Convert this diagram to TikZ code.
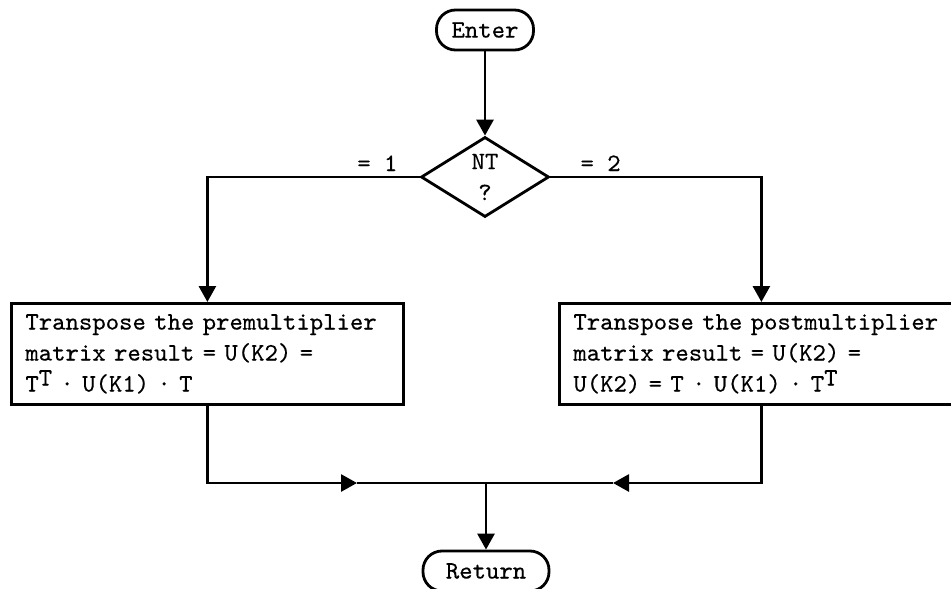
\documentclass[tikz,border=0pt]{standalone}
\usepackage{fontspec}
\newfontfamily\typewriter{lmmono10-regular}[Extension=.otf,FakeStretch=1.02,FakeBold=0.4]
\usetikzlibrary{arrows.meta,shapes.geometric}
% raised transpose mark
\newcommand\supT{\raisebox{6pt}{T}}
\begin{document}
\begin{tikzpicture}[x=1pt,y=-1pt,
  flow/.style={line width=2.8pt},
  arr/.style={flow,-{Triangle[length=16pt,width=17pt]}},
  txt/.style={font=\typewriter\fontsize{25}{31}\selectfont},
  terminal/.style={txt,draw,line width=2.8pt,rounded corners=19pt,minimum height=40pt,inner sep=0pt},
  decision/.style={txt,draw,diamond,line width=2.8pt,minimum width=128pt,minimum height=80pt,inner sep=0pt,align=center},
  process/.style={txt,draw,line width=2.8pt,align=left,inner xsep=14pt,inner ysep=0pt,minimum height=101pt,anchor=north west},
]
\useasboundingbox (0,0) rectangle (951,589);

% terminals and decision
\node[terminal,minimum width=97pt] (enter) at (485,30) {Enter};
\node[decision] (nt) at (485,177) {NT\\?};
\node[txt,anchor=base east] (one) at (401,171) {= 1};
\node[txt,anchor=base west] (two) at (577,171) {= 2};

% processing boxes
\node[process,text width=364pt] (lbox) at (10,302)
  {Transpose the premultiplier\\matrix result = U(K2) =\\T\supT{} · U(K1) · T};
\node[process,text width=376pt] (rbox) at (558,302)
  {Transpose the postmultiplier\\matrix result = U(K2) =\\U(K2) = T · U(K1) · T\supT};

\node[terminal,minimum width=126pt] (ret) at (486,571) {Return};

% connectors
\coordinate (join) at (486,483);
\coordinate (lin) at (357,483);
\coordinate (rin) at (613,483);

\draw[arr] (enter) -- (nt);
\draw[arr] (nt.west) -| (lbox.north);
\draw[arr] (nt.east) -| (rbox.north);
\draw[arr] (lbox.south) |- (lin);
\draw[flow] (lin) -- (join);
\draw[arr] (rbox.south) |- (rin);
\draw[flow] (rin) -- (join);
\draw[arr] (join) -- (ret);
\end{tikzpicture}
\end{document}
